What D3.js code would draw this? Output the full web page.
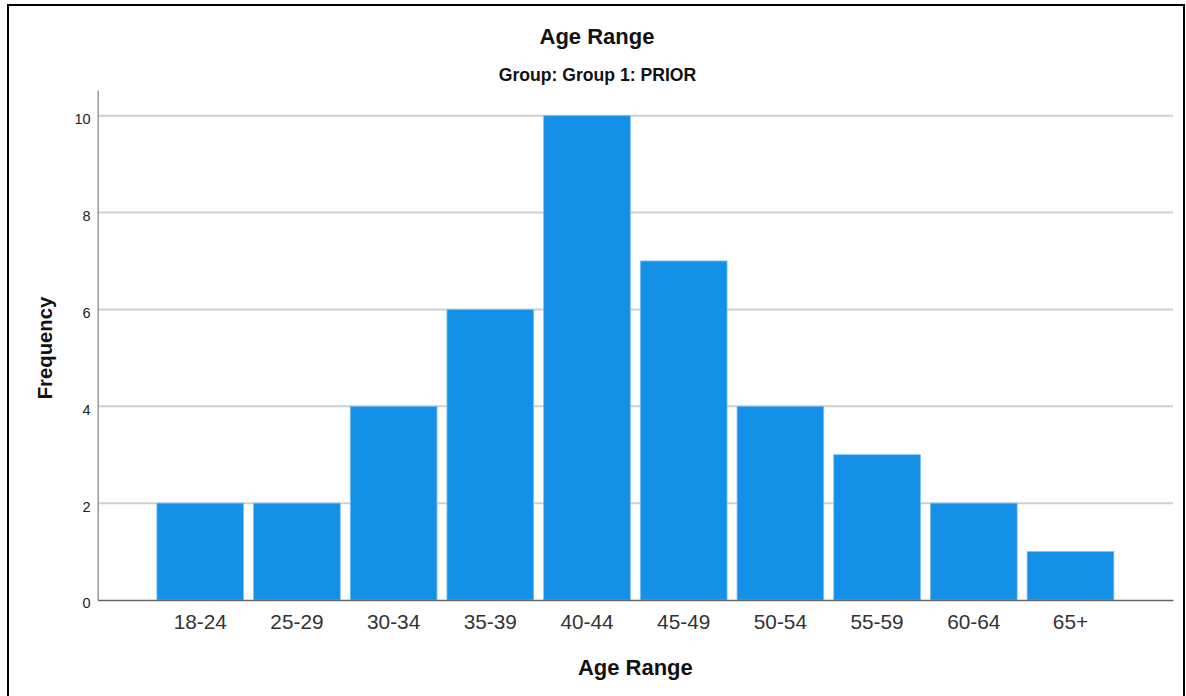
<!DOCTYPE html>
<html>
<head>
<meta charset="utf-8">
<script src="https://cdn.jsdelivr.net/npm/d3@7"></script>
<style>
  html, body { margin: 0; padding: 0; background: #fff; }
  svg { display: block; font-family: "Liberation Sans", Arial, sans-serif; }
</style>
</head>
<body>
<svg id="chart" width="1186" height="696"></svg>
<script>
const categories = ["18-24", "25-29", "30-34", "35-39", "40-44", "45-49", "50-54", "55-59", "60-64", "65+"];
const frequencies = [2, 2, 4, 6, 10, 7, 4, 3, 2, 1];
const yTicks = [0, 2, 4, 6, 8, 10];
const chartTitle = "Age Range";
const chartSubtitle = "Group: Group 1: PRIOR";
const xTitle = "Age Range";
const yTitle = "Frequency";

(function () {
const svg = d3.select("#chart");

// outer frame
svg.append("rect")
  .attr("x", 8).attr("y", 5).attr("width", 1176).attr("height", 700)
  .attr("fill", "none").attr("stroke", "#000").attr("stroke-width", 2);

const pLeft = 97.7, pRight = 1173, pTop = 90, pBottom = 600;

const x = d3.scaleBand()
  .domain(categories)
  .range([pLeft, pRight])
  .paddingInner(0.1034)
  .paddingOuter(0.612);

const y = d3.scaleLinear()
  .domain([0, 10.53])
  .range([pBottom, pTop]);

// gridlines
svg.append("g")
  .selectAll("line")
  .data(yTicks.filter(d => d > 0))
  .join("line")
  .attr("x1", pLeft).attr("x2", pRight)
  .attr("y1", d => y(d)).attr("y2", d => y(d))
  .attr("stroke", "#d0d0d0").attr("stroke-width", 2);

// bars
svg.append("g")
  .selectAll("rect")
  .data(categories.map((c, i) => ({ c, v: frequencies[i] })))
  .join("rect")
  .attr("x", d => x(d.c))
  .attr("width", x.bandwidth())
  .attr("y", d => y(d.v))
  .attr("height", d => y(0) - y(d.v))
  .attr("fill", "#1490e6")
  .attr("stroke", "#7cc0f2")
  .attr("stroke-width", 0.8);

// y axis
const yAxis = d3.axisLeft(y).tickValues(yTicks).tickSize(0).tickPadding(7).tickFormat(d3.format("d"));
const gy = svg.append("g").attr("transform", `translate(${pLeft},0)`).call(yAxis);
gy.select(".domain").attr("stroke", "#999").attr("stroke-width", 1.5);
gy.selectAll("text")
  .attr("font-size", 14.5).attr("fill", "#222")
  .attr("dy", "0.55em")
  .attr("font-family", "'Liberation Sans', Arial, sans-serif");

// x axis
const xAxis = d3.axisBottom(x).tickSize(0).tickPadding(14);
const gx = svg.append("g").attr("transform", `translate(0,${pBottom})`).call(xAxis);
gx.select(".domain").attr("stroke", "#666").attr("stroke-width", 1.5);
gx.selectAll("text").attr("font-size", 20.8).attr("fill", "#333");

// titles
svg.append("text")
  .attr("x", 597).attr("y", 43.5)
  .attr("text-anchor", "middle")
  .attr("font-size", 22).attr("font-weight", "bold").attr("fill", "#111")
  .text(chartTitle);

svg.append("text")
  .attr("x", 597.5).attr("y", 80.5)
  .attr("text-anchor", "middle")
  .attr("font-size", 17.6).attr("font-weight", "bold").attr("fill", "#111")
  .text(chartSubtitle);

svg.append("text")
  .attr("x", (pLeft + pRight) / 2).attr("y", 675)
  .attr("text-anchor", "middle")
  .attr("font-size", 22).attr("font-weight", "bold").attr("fill", "#111")
  .text(xTitle);

svg.append("text")
  .attr("transform", `translate(52,348) rotate(-90)`)
  .attr("text-anchor", "middle")
  .attr("font-size", 20.3).attr("font-weight", "bold").attr("fill", "#111")
  .text(yTitle);
})();
</script>
</body>
</html>
